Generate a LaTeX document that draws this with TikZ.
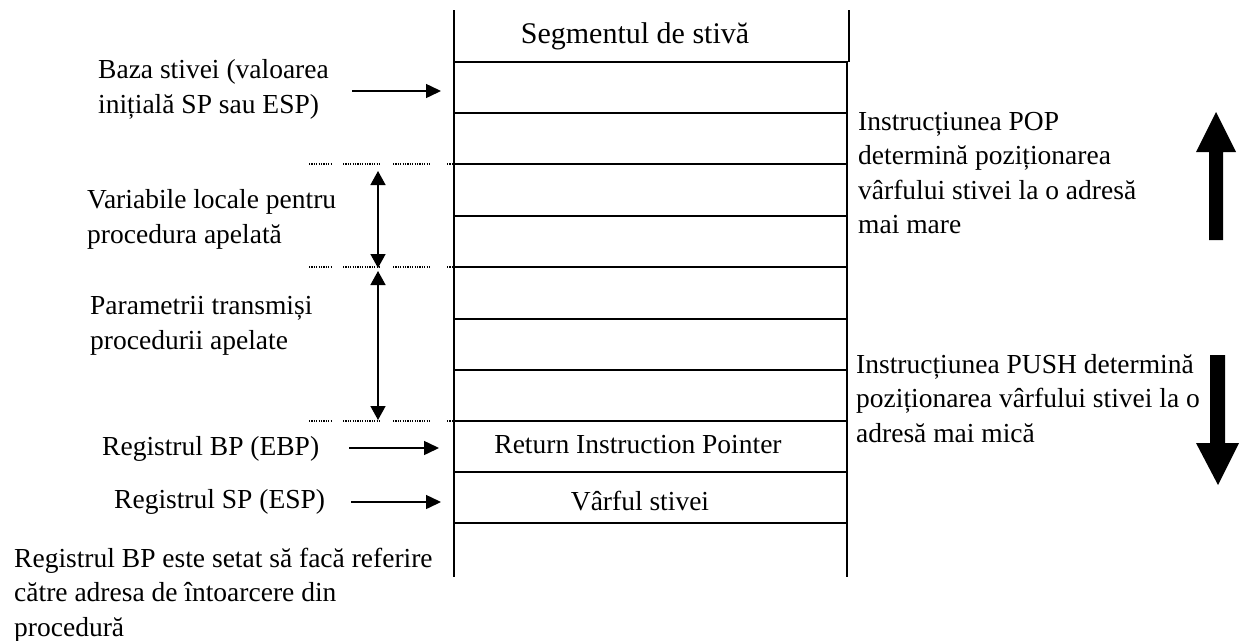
\documentclass[tikz,border=0pt]{standalone}
\usepackage{fontspec}
\setmainfont{Liberation Serif}
\usetikzlibrary{arrows.meta}
\begin{document}
\begin{tikzpicture}[x=1pt,y=-1pt,
  txt/.style={inner sep=0pt, align=left, font=\fontsize{27.5}{34.5}\selectfont},
  ctxt/.style={inner sep=0pt, font=\fontsize{27.5}{34.5}\selectfont},
  stk/.style={line width=1.8pt},
  ptr/.style={line width=1.5pt, -{Triangle[length=15pt,width=14pt]}},
  spanarrow/.style={line width=1.5pt, {Triangle[length=14pt,width=15pt]}-{Triangle[length=14pt,width=15pt]}},
  dots/.style={line width=1.3pt, dash pattern=on 1.2pt off 1.2pt},
  bigarrow/.style={fill=black, draw=none}]
\useasboundingbox (0,0) rectangle (1246,640);

% stack outline
\draw[stk] (454,10) -- (454,577);
\draw[stk] (849,10) -- (849,62);
\draw[stk] (847,62) -- (847,577);
\foreach \yy in {62,113,164,216,267,319,370,421,472,523}
  \draw[stk] (454,\yy) -- (848,\yy);

% stack texts
\node[ctxt, anchor=base, font=\fontsize{30}{34}\selectfont] (title) at (635,43) {Segmentul de stivă};
\node[ctxt, anchor=base] (rip) at (638,453) {Return Instruction Pointer};
\node[ctxt, anchor=base] (top) at (640,510) {Vârful stivei};

% dotted separators
\foreach \yy in {164,267,421}{
  \draw[dots] (309,\yy) -- (332,\yy);
  \draw[dots] (343,\yy) -- (381,\yy);
  \draw[dots] (393,\yy) -- (430,\yy);
  \draw[dots] (447,\yy) -- (454,\yy);
}

% left texts
\node[txt, anchor=north west] (baza) at (98,59.5) {Baza stivei (valoarea\\inițială SP sau ESP)};
\node[txt, anchor=north west] (locale) at (87,189.5) {Variabile locale pentru\\procedura apelată};
\node[txt, anchor=north west] (param) at (90,296.5) {Parametrii transmiși\\procedurii apelate};
\node[ctxt, anchor=base west] (bp) at (102,455) {Registrul BP (EBP)};
\node[ctxt, anchor=base west] (sp) at (114,508) {Registrul SP (ESP)};
\node[txt, anchor=north west] (note) at (14,547.5) {Registrul BP este setat să facă referire\\către adresa de întoarcere din\\procedură};

% right texts
\node[txt, anchor=north west] (pop) at (858,112) {Instrucțiunea POP\\determină poziționarea\\vârfului stivei la o adresă\\mai mare};
\node[txt, anchor=north west] (push) at (856,354) {Instrucțiunea PUSH determină\\poziționarea vârfului stivei la o\\adresă mai mică};

% pointer arrows
\coordinate (bazaA) at (352,91);  \coordinate (bazaB) at (441,91);
\coordinate (bpA) at (349,448);   \coordinate (bpB) at (439,448);
\coordinate (spA) at (351,502);   \coordinate (spB) at (441,502);
\draw[ptr] (bazaA) -- (bazaB);
\draw[ptr] (bpA) -- (bpB);
\draw[ptr] (spA) -- (spB);

% span arrows
\coordinate (l1) at (378,171); \coordinate (l2) at (378,268);
\coordinate (p1) at (378,271); \coordinate (p2) at (378,420);
\draw[spanarrow] (l1) -- (l2);
\draw[spanarrow] (p1) -- (p2);

% big arrows
\fill[bigarrow] (1209,240) -- (1209,152) -- (1196,152) -- (1216,112) -- (1236,152) -- (1223,152) -- (1223,240) -- cycle;
\fill[bigarrow] (1210,355) -- (1225,355) -- (1225,443) -- (1239,443) -- (1218,485) -- (1196,443) -- (1210,443) -- cycle;
\end{tikzpicture}
\end{document}
